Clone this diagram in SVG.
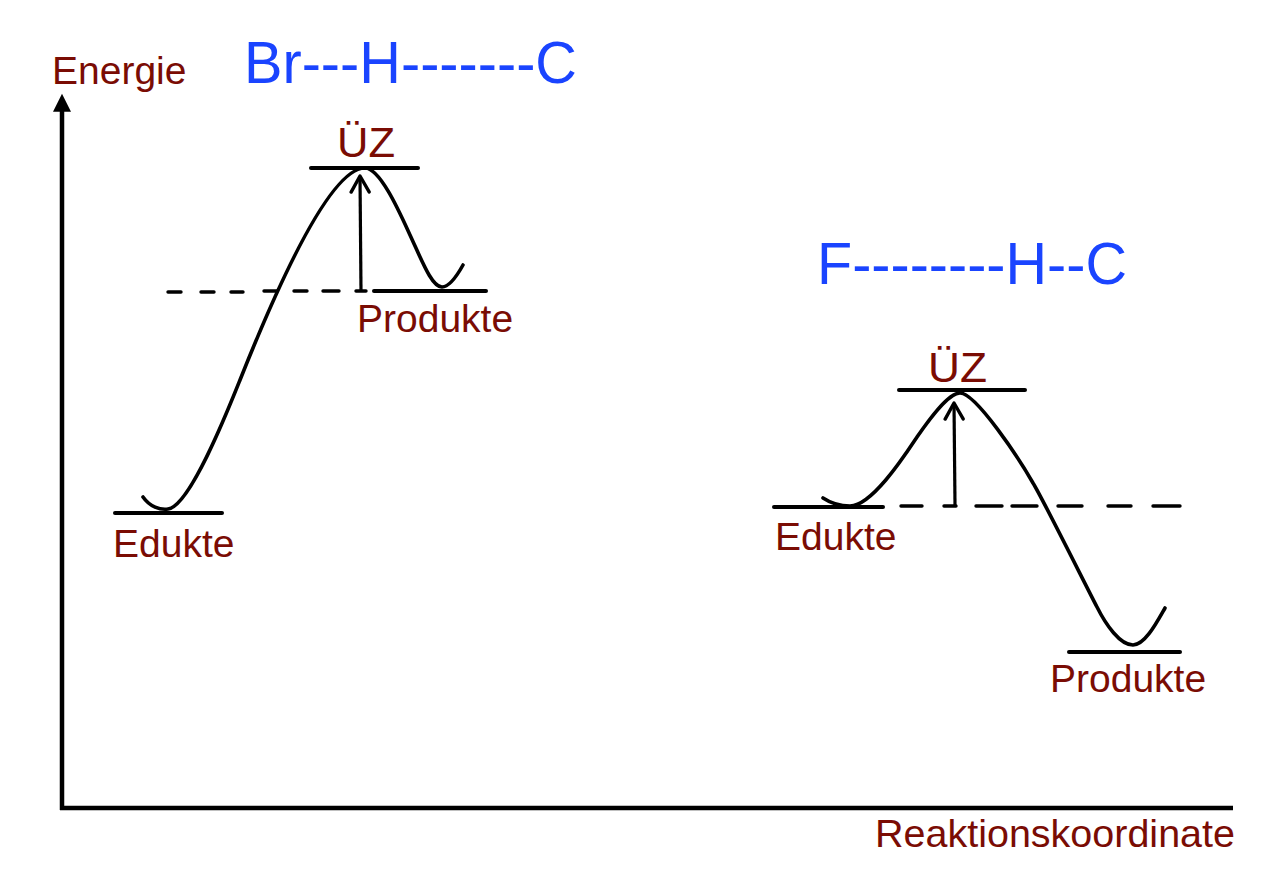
<svg xmlns="http://www.w3.org/2000/svg" width="1280" height="878" viewBox="0 0 1280 878">
  <defs>
    <marker id="axisHead" viewBox="0 0 10 10" refX="1" refY="5" markerWidth="20" markerHeight="18" markerUnits="userSpaceOnUse" orient="auto">
      <path d="M0,0 L10,5 L0,10 Z" fill="#000"/>
    </marker>
    <marker id="openHead" viewBox="-18 -11 22 22" refX="0" refY="0" markerWidth="22" markerHeight="22" markerUnits="userSpaceOnUse" orient="auto">
      <path d="M-16,-9 L0,0 L-16,9" fill="none" stroke="#000" stroke-width="3.4" stroke-linecap="round" stroke-linejoin="round"/>
    </marker>
    <style>
      .lbl { font-family: "Liberation Sans", Arial, sans-serif; font-size: 39px; fill: #7a0c04; }
      .uez { font-size: 42px; }
      .mol { font-family: "Liberation Sans", Arial, sans-serif; font-size: 60px; fill: #1a44ff; }
      .lvl { stroke: #000; stroke-width: 4; stroke-linecap: round; fill: none; }
      .curve { stroke: #000; stroke-width: 3.6; stroke-linecap: round; stroke-linejoin: round; fill: none; }
      .dash { stroke: #000; stroke-width: 3.4; stroke-linecap: round; fill: none; }
      .axis { stroke: #000; stroke-width: 4.5; fill: none; }
      .earrow { stroke: #000; stroke-width: 3.2; fill: none; }
    </style>
  </defs>
  <rect width="1280" height="878" fill="#fff"/>

  <g id="axes">
    <path class="axis" d="M62,810 L62,110" marker-end="url(#axisHead)"/>
    <path class="axis" d="M60,808 L1233,808"/>
    <text class="lbl" x="52" y="84">Energie</text>
    <text class="lbl" x="875" y="847" textLength="360" lengthAdjust="spacingAndGlyphs">Reaktionskoordinate</text>
  </g>

  <g id="molecule-br">
    <text class="mol" x="244" y="83" textLength="333" lengthAdjust="spacingAndGlyphs">Br---H-------C</text>
  </g>
  <g id="molecule-f">
    <text class="mol" x="817" y="284" textLength="310" lengthAdjust="spacingAndGlyphs">F--------H--C</text>
  </g>

  <g id="left-edukte">
    <line class="lvl" x1="115" y1="513" x2="222" y2="513"/>
    <text class="lbl" x="113" y="557">Edukte</text>
  </g>
  <g id="left-uez">
    <line class="lvl" x1="311" y1="168" x2="418" y2="168"/>
    <text class="lbl uez" x="337" y="157" textLength="58" lengthAdjust="spacingAndGlyphs">ÜZ</text>
  </g>
  <g id="left-produkte">
    <line class="lvl" x1="374" y1="291" x2="486" y2="291"/>
    <text class="lbl" x="357" y="332">Produkte</text>
  </g>

  <g id="right-edukte">
    <line class="lvl" x1="774" y1="507" x2="883" y2="507"/>
    <text class="lbl" x="775" y="550">Edukte</text>
  </g>
  <g id="right-uez">
    <line class="lvl" x1="899" y1="390" x2="1025" y2="390"/>
    <text class="lbl uez" x="928" y="382" textLength="59" lengthAdjust="spacingAndGlyphs">ÜZ</text>
  </g>
  <g id="right-produkte">
    <line class="lvl" x1="1069" y1="652" x2="1180" y2="652"/>
    <text class="lbl" x="1050" y="692">Produkte</text>
  </g>

  <g id="connectors">
    <path class="dash" d="M168,292 H181 M201,292 H214 M231,292 H243 M264,291 H277 M294,291 H307 M323,291 H339 M356,291 H366"/>
    <path class="dash" d="M901,506 H922 M944,506 H956 M976,506 H1002 M1012,506 H1037 M1058,506 H1082 M1108,506 H1131 M1153,506 H1180"/>
    <path class="curve" d="M143,497 C150,507 160,510 168,509 C190,506 228,410 240,380 C277,287 330,168 365,168 C380,168 399.5,212 410,235 C422.6,262.3 432,287 442,287 C450,287 458,274 463,265"/>
    <path class="curve" d="M823,498 C832,504 842,506 850,506 C872,506 905,455 917,437 C928.4,420.6 948,393 960,393 C976,393 1020,460 1033,483 C1043.4,500 1088,590 1097,607 C1106,625 1120,645 1133,645 C1145,645 1157,622 1165,608"/>
    <path class="earrow" d="M361,291 L360,176" marker-end="url(#openHead)"/>
    <path class="earrow" d="M955,505 L954,403" marker-end="url(#openHead)"/>
  </g>
</svg>
